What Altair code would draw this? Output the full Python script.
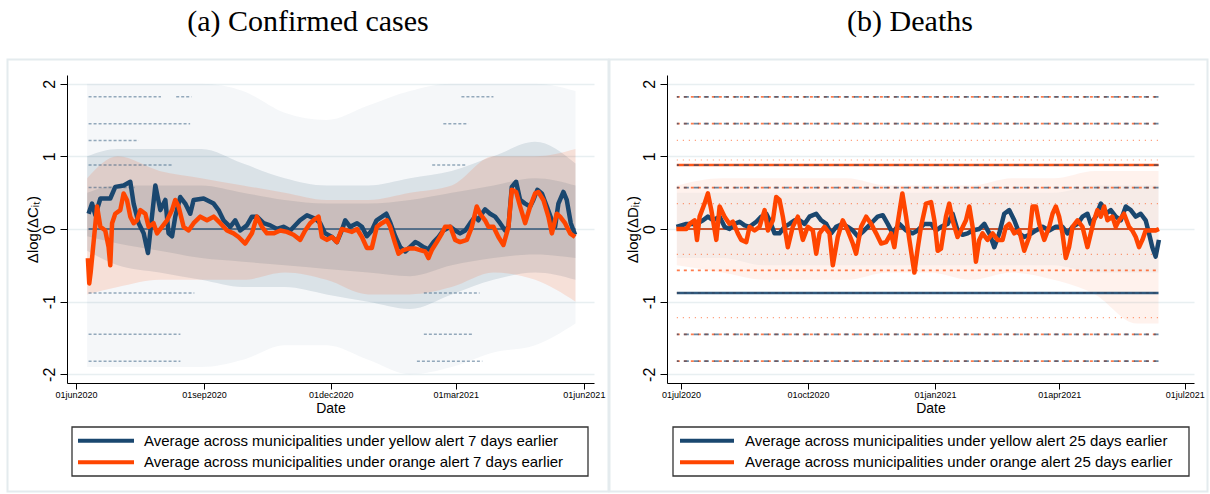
import altair as alt
import pandas as pd

# ------------------------------------------------------------------ text / ticks
panel_titles = ["(a) Confirmed cases", "(b) Deaths"]
y_titles = ["Δlog(ΔCᵢₜ)", "Δlog(ΔDᵢₜ)"]
x_title = "Date"
legend_a = ["Average across municipalities under yellow alert 7 days earlier",
            "Average across municipalities under orange alert 7 days earlier"]
legend_b = ["Average across municipalities under yellow alert 25 days earlier",
            "Average across municipalities under orange alert 25 days earlier"]
y_ticks = [-2, -1, 0, 1, 2]
y_range = [-2.12, 2.12]

a_start = "2020-06-01"
a_ticks = ["2020-06-01", "2020-09-01", "2020-12-01", "2021-03-01", "2021-06-01"]
a_range = ["2020-05-25T12:00", "2021-06-08T07:00"]
b_start = "2020-07-01"
b_ticks = ["2020-07-01", "2020-10-01", "2021-01-01", "2021-04-01", "2021-07-01"]
b_range = ["2020-06-20T21:00", "2021-07-07T17:00"]

# ------------------------------------------------------------------ (a) averages, days since 01jun2020
cases_yellow_day = [9, 11.5, 13.9, 17.5, 24.6, 28.2, 34.2, 39, 41.4, 45, 48.6, 51.7, 57, 60.6, 64.2, 66.5,
                    69, 71.3, 74.9, 78.5, 82.1, 84.5, 91.7, 98.9, 102.4, 106, 110.8, 114.4, 118, 122.8,
                    126.4, 130, 134.8, 139.6, 144.4, 149.1, 154, 161, 166, 172, 175.5, 179, 184, 187.5,
                    191, 193.5, 197, 202, 205.5, 209, 212.6, 216, 220, 223, 226, 229.4, 233, 236.6, 240,
                    243.8, 246, 249.7, 253.3, 257, 260.5, 264, 269, 272.5, 276, 279.7, 283.3, 286.8,
                    289.2, 291.7, 294, 297.6, 301.2, 304.8, 308.4, 310.8, 313.2, 316.3, 319.2, 322.8,
                    326.4, 328.7, 331.6, 334.8, 338.4, 342, 344.3, 346.7, 350.3, 352.7, 355.6, 358.7]
cases_yellow_val = [0.21, 0.35, 0.19, 0.42, 0.42, 0.58, 0.6, 0.65, 0.35, 0.08, -0.06, -0.33, 0.6, 0.26,
                    0.40, -0.06, -0.1, 0.17, 0.44, 0.35, 0.21, 0.4, 0.42, 0.35, 0.26, 0.12, 0.03, 0.12,
                    -0.02, 0.05, 0.17, 0.17, 0.08, 0.05, 0.0, 0.03, -0.02, 0.12, 0.19, 0.14, 0.08, -0.06,
                    -0.11, -0.18, -0.02, 0.12, 0.03, 0.08, 0.03, -0.1, -0.02, 0.12, 0.17, 0.21, 0.08,
                    -0.1, -0.25, -0.31, -0.25, -0.18, -0.2, -0.25, -0.28, -0.18, -0.11, -0.02, 0.03,
                    -0.02, -0.06, -0.02, 0.08, 0.17, 0.12, 0.21, 0.27, 0.21, 0.17, 0.08, -0.02, 0.03,
                    0.58, 0.65, 0.40, 0.35, 0.31, 0.40, 0.54, 0.49, 0.31, 0.12, 0.03, 0.35, 0.51, 0.40,
                    0.08, -0.08]
cases_orange_day = [8.5, 9.5, 10.5, 15.1, 17.5, 21, 23.4, 24.6, 25.9, 28.2, 31.8, 34.2, 36.6, 39, 41.4,
                    43.8, 46.2, 49.8, 52.2, 55.7, 58.2, 61.8, 65.4, 69, 71.3, 73.7, 77.3, 80.9, 84.5,
                    89.3, 94.1, 98.9, 103.7, 108.5, 113.2, 116.8, 121.6, 126.4, 130, 133.6, 137.2, 142,
                    146.8, 151.6, 156.3, 161.1, 164.7, 168.3, 172, 174.3, 176.7, 180.3, 184, 187.5, 191,
                    194.7, 198.3, 202, 205.5, 209, 212.6, 216.2, 219.8, 223.4, 225.8, 229.4, 231.8,
                    235.3, 239, 243.8, 247.3, 251, 253.3, 255.7, 259.3, 263, 265.3, 269, 272.5, 276,
                    280.9, 284.5, 288, 290.4, 294, 296.4, 300, 303.6, 307.2, 310.8, 313.2, 316.3, 319.2,
                    322.8, 326.4, 330, 332.3, 335.9, 339.5, 342, 345.5, 347.9, 351.5, 355.1, 358.7]
cases_orange_val = [-0.4, -0.75, -0.6, 0.31, 0.03, -0.02, -0.25, -0.5, 0.08, 0.21, 0.26, 0.49, 0.40,
                    0.17, 0.08, 0.12, 0.26, 0.21, 0.03, 0.08, -0.06, 0.03, 0.12, 0.26, 0.40, 0.31, 0.03,
                    -0.02, 0.08, 0.17, 0.12, 0.17, 0.08, -0.02, -0.06, -0.11, -0.2, -0.06, 0.17, 0.03,
                    -0.06, -0.06, -0.02, -0.04, -0.08, -0.15, -0.02, 0.08, 0.14, 0.17, -0.11, -0.15,
                    -0.11, -0.18, 0.0, -0.02, -0.04, 0.0, -0.11, -0.26, -0.26, 0.03, 0.08, 0.12, 0.03,
                    -0.2, -0.34, -0.29, -0.27, -0.27, -0.29, -0.31, -0.4, -0.29, -0.18, -0.06, 0.03,
                    0.03, -0.15, -0.18, -0.15, 0.03, 0.31, 0.21, 0.12, 0.03, 0.03, -0.11, -0.22, 0.03,
                    0.54, 0.51, 0.31, 0.08, 0.31, 0.49, 0.51, 0.40, 0.17, -0.06, 0.21, 0.17, 0.08,
                    -0.06, -0.11]

# (a) municipality scatter, summarised as envelopes
cases_band_day = [8, 30, 60, 90, 120, 150, 180, 210, 240, 270, 300, 330, 359]
cases_yel_outer_hi = [2.0, 2.0, 2.0, 2.0, 1.9, 1.6, 1.5, 1.7, 1.9, 2.0, 2.0, 2.0, 1.9]
cases_yel_outer_lo = [-1.9, -1.9, -1.9, -1.9, -1.8, -1.6, -1.6, -1.8, -2.0, -1.9, -1.7, -1.6, -1.3]
cases_yel_core_hi = [1.0, 1.1, 1.1, 1.1, 0.9, 0.7, 0.6, 0.6, 0.7, 0.8, 1.0, 1.2, 0.9]
cases_yel_core_lo = [-0.3, -0.5, -0.6, -0.7, -0.8, -0.8, -0.9, -1.0, -1.1, -0.9, -0.7, -0.6, -0.7]
cases_yel_dense_hi = [0.5, 0.6, 0.6, 0.6, 0.5, 0.4, 0.35, 0.35, 0.4, 0.5, 0.6, 0.7, 0.6]
cases_yel_dense_lo = [-0.1, -0.2, -0.3, -0.4, -0.45, -0.5, -0.55, -0.6, -0.65, -0.5, -0.4, -0.35, -0.4]
cases_ora_hi = [0.7, 1.0, 0.8, 0.7, 0.6, 0.5, 0.4, 0.4, 0.5, 0.6, 1.0, 1.0, 1.1]
cases_ora_lo = [-0.9, -0.8, -0.7, -0.7, -0.7, -0.6, -0.7, -0.9, -0.9, -0.8, -0.6, -0.7, -1.0]

# (a) repeated discrete values (horizontal streaks)
cases_streak_val = [1.82, 1.82, 1.82, 1.45, 1.45, 1.22, 0.88, 0.88, 0.57, -0.88, -0.88, -1.45, -1.45, -1.82, -1.82]
cases_streak_from = [9, 72, 277, 9, 264, 9, 9, 256, 9, 9, 250, 9, 250, 9, 245]
cases_streak_to = [61, 83, 300, 82, 282, 45, 70, 281, 42, 85, 290, 75, 285, 75, 292]
cases_zero = [0.0]
cases_zero_from = [9]
cases_zero_to = [359]

# ------------------------------------------------------------------ (b) averages, days since 01jul2020
deaths_yellow_day = [-3.3, 3.9, 11.1, 16, 19.5, 23.2, 28, 31.6, 35.2, 38.9, 42.5, 46.1, 49.7, 54.6, 58.2,
                     61.8, 64.2, 67.8, 71.4, 75, 78.6, 82.3, 85.9, 89.5, 93.1, 98, 101.6, 105.2, 108.8,
                     112.4, 117.2, 120.8, 124.5, 128.1, 131.7, 135.3, 138.9, 142.5, 146.2, 149.8, 153.4,
                     158.2, 163.1, 167.9, 171.5, 176.3, 181.2, 184.8, 188.4, 193.2, 196.8, 200.4, 204,
                     207.7, 211.3, 216.1, 219.8, 223.4, 227, 230.6, 234.2, 237.8, 241.5, 245.1, 248.7,
                     252.3, 257.2, 262, 266.8, 271.6, 276.4, 280, 283.7, 287.3, 290.9, 294.5, 296.9,
                     300.5, 304.2, 307.8, 311.4, 315, 318.7, 322.3, 325.9, 329.5, 333.1, 336.7, 339.1,
                     341.5, 343.9, 346.3]
deaths_yellow_val = [0.03, 0.07, 0.07, 0.12, 0.17, 0.12, 0.17, 0.03, 0.0, 0.07, 0.1, 0.05, 0.03, 0.1,
                     0.17, 0.21, 0.12, -0.06, -0.06, 0.03, 0.07, 0.12, 0.12, 0.07, 0.17, 0.21, 0.12,
                     0.07, -0.06, 0.03, 0.07, 0.03, -0.02, -0.1, -0.04, 0.03, 0.1, 0.17, 0.19, 0.07,
                     -0.06, 0.07, -0.02, -0.06, -0.02, 0.07, 0.07, -0.02, 0.03, 0.07, 0.21, -0.02, -0.08,
                     -0.06, -0.02, 0.0, 0.07, -0.06, -0.25, -0.06, 0.21, 0.26, 0.12, -0.06, -0.11, -0.08,
                     -0.02, 0.03, -0.02, 0.03, 0.03, -0.06, 0.03, 0.07, 0.17, 0.21, 0.07, 0.17, 0.35,
                     0.21, 0.26, 0.17, 0.12, 0.31, 0.26, 0.17, 0.21, 0.12, -0.06, -0.25, -0.38, -0.15]
deaths_orange_day = [-3.3, 3.9, 6.3, 9.9, 11.6, 13.5, 17.1, 19.5, 22, 25.6, 28, 31.6, 35.2, 37.6, 41.2,
                     43.7, 47.3, 49.7, 53.3, 56.9, 60.6, 63, 66.6, 69, 71.4, 73.8, 77.4, 81, 84.7, 88.3,
                     91.9, 95.5, 98, 100.4, 104, 107.6, 110, 113.6, 117.2, 120.8, 124.5, 126.9, 130.5,
                     134.2, 137.8, 141.4, 145, 148.6, 152.2, 154.6, 157, 160.4, 163.1, 165.5, 169.1,
                     171.5, 173.9, 177.6, 181.2, 183.6, 186, 188.4, 192, 194.4, 196.8, 200.4, 202.9,
                     206.5, 208.9, 211.3, 213.7, 216.1, 218.5, 222.1, 225.8, 229.4, 233, 235.4, 237.8,
                     241.5, 245.1, 248.7, 252.3, 254.7, 257.2, 259.6, 263.2, 266.8, 269.2, 271.6, 274,
                     276.4, 278.8, 281.2, 283.7, 287.3, 290.9, 294.5, 296.9, 299.3, 301.7, 304.2, 306.6,
                     309, 312.6, 315, 317.4, 321, 324.6, 327, 329.5, 331.9, 334.3, 336.7, 340.3, 343.9,
                     346.3]
deaths_orange_val = [0.0, 0.0, 0.07, 0.12, -0.15, 0.17, 0.35, 0.49, 0.26, -0.15, 0.31, 0.17, 0.07, 0.1,
                     -0.06, -0.15, -0.18, 0.03, -0.02, 0.03, 0.26, -0.02, 0.12, 0.44, 0.40, 0.17, -0.25,
                     0.03, 0.17, -0.15, 0.03, -0.02, -0.34, -0.06, 0.03, -0.06, -0.5, -0.11, 0.12, -0.02,
                     -0.2, -0.34, 0.03, 0.17, 0.07, -0.06, -0.2, -0.18, -0.06, -0.25, 0.08, 0.49, 0.17,
                     -0.15, -0.6, -0.27, 0.03, 0.35, 0.37, 0.12, -0.3, -0.27, 0.17, 0.35, 0.12, -0.11,
                     -0.02, 0.12, 0.31, 0.03, -0.45, -0.15, -0.06, -0.15, -0.06, -0.15, -0.15, 0.03, 0.07,
                     -0.06, -0.02, -0.3, -0.11, 0.31, 0.31, 0.07, -0.15, 0.03, 0.21, 0.31, 0.17, -0.06,
                     -0.4, -0.25, 0.03, 0.12, 0.03, -0.25, -0.06, 0.12, 0.26, 0.17, 0.31, 0.12, 0.17,
                     0.03, 0.12, 0.21, 0.03, -0.02, -0.11, -0.25, -0.15, -0.02, -0.02, -0.02, 0.0]

deaths_band_day = [-3, 30, 60, 90, 120, 150, 180, 210, 240, 270, 300, 330, 346]
deaths_ora_hi = [0.6, 0.7, 0.7, 0.7, 0.7, 0.6, 0.6, 0.6, 0.7, 0.7, 0.8, 0.8, 0.8]
deaths_ora_lo = [-0.5, -0.6, -0.7, -0.7, -0.7, -0.6, -0.6, -0.7, -0.6, -0.7, -0.9, -1.3, -1.3]
deaths_yel_hi = [0.5, 0.5, 0.5, 0.5, 0.5, 0.5, 0.5, 0.5, 0.5, 0.5, 0.6, 0.6, 0.6]
deaths_yel_lo = [-0.4, -0.4, -0.5, -0.5, -0.5, -0.5, -0.5, -0.5, -0.5, -0.5, -0.6, -0.6, -0.6]

deaths_solid_orange = [0.88]
deaths_solid_navy = [-0.88]
deaths_zero = [0.0]
deaths_dash_navy = [1.82, 1.45, 0.88, 0.57, -1.45, -1.82]
deaths_dash_orange = [1.82, 1.45, 0.57, -0.57, -0.88, -1.45, -1.82]
deaths_faint_orange = [1.22, 0.95, 0.35, -0.35, -1.22]
deaths_streak_from = -3
deaths_streak_to = 346

# ------------------------------------------------------------------ styling
NAVY = "#1a476f"
ORANGE = "#ff4500"
ZERO_B = "#c8461c"
FRAME = "#e4ebee"
GRID = "#e8eff1"
FONT = "Liberation Sans"
SERIF = "Liberation Serif"
W, H = 527, 308


def dt(s):
    t = pd.Timestamp(s)
    return alt.DateTime(year=t.year, month=t.month, date=t.day, hours=t.hour, minutes=t.minute)


def dates(start, days):
    return pd.Timestamp(start) + pd.to_timedelta(pd.Series(days, dtype=float), unit="D")


def enc_x(rng, ticks):
    return alt.X("date:T", title=x_title,
                 scale=alt.Scale(domain=[dt(r) for r in rng]),
                 axis=alt.Axis(values=[dt(t) for t in ticks],
                               labelExpr="lower(timeFormat(datum.value, '%d%b%Y'))",
                               grid=False, tickSize=6, labelFontSize=9, labelPadding=1,
                               labelFlush=False, labelOverlap=False,
                               labelFont=FONT, titleFont=FONT, titleFontSize=14,
                               titleFontWeight="normal", titleY=18,
                               domainColor="black", tickColor="black",
                               labelColor="black", titleColor="black"))


def enc_y(title):
    return alt.Y("v:Q", title=title,
                 scale=alt.Scale(domain=y_range, nice=False, zero=False),
                 axis=alt.Axis(values=y_ticks, labelExpr="'' + datum.value",
                               labelAngle=270, labelAlign="center", labelBaseline="bottom",
                               labelFontSize=16, labelPadding=3, tickSize=7,
                               grid=True, gridColor=GRID, gridWidth=1.5,
                               labelFont=FONT, titleFont=FONT, titleFontSize=15,
                               titleFontWeight="normal", titleX=-27,
                               domainColor="black", tickColor="black",
                               labelColor="black", titleColor="black"))


one = pd.DataFrame({"k": [0]})


def deco(frame_l, frame_r, bound_l, bound_r, title, tx):
    lay = []
    lay.append(alt.Chart(one).mark_rect(fill="white", fillOpacity=0, strokeOpacity=0).encode(
        x=alt.value(bound_l), x2=alt.value(bound_r), y=alt.value(-75), y2=alt.value(419)))
    lay.append(alt.Chart(one).mark_rect(fillOpacity=0, stroke=FRAME, strokeWidth=2).encode(
        x=alt.value(frame_l), x2=alt.value(frame_r), y=alt.value(-15.5), y2=alt.value(416.5)))
    lay.append(alt.Chart(pd.DataFrame({"label": [title]})).mark_text(
        font=SERIF, fontSize=30, align="center", baseline="middle", color="black").encode(
        x=alt.value(tx), y=alt.value(-53), text="label:N"))
    return lay


def legend_layers(box_l, box_r, sym_l, sym_r, text_x, labels):
    lay = []
    lay.append(alt.Chart(one).mark_rect(fill="white", stroke="#333333", strokeWidth=1.3).encode(
        x=alt.value(box_l), x2=alt.value(box_r), y=alt.value(352), y2=alt.value(401)))
    for lbl, col, yy in [(labels[0], NAVY, 365.7), (labels[1], ORANGE, 387.3)]:
        lay.append(alt.Chart(one).mark_rule(color=col, strokeWidth=4).encode(
            x=alt.value(sym_l), x2=alt.value(sym_r), y=alt.value(yy)))
        lay.append(alt.Chart(pd.DataFrame({"label": [lbl]})).mark_text(
            font=FONT, fontSize=15, align="left", baseline="middle", color="black").encode(
            x=alt.value(text_x), y=alt.value(yy), text="label:N"))
    return lay


def band(start, days, lo, hi, color, opacity, X, Y):
    df = pd.DataFrame({"date": dates(start, days), "v": lo, "v2": hi})
    return alt.Chart(df).mark_area(color=color, opacity=opacity, interpolate="monotone").encode(
        x=X, y=Y, y2="v2:Q")


def rules(start, vals, d0, d1, X, Y, **style):
    n = len(vals)
    d0 = d0 if isinstance(d0, list) else [d0] * n
    d1 = d1 if isinstance(d1, list) else [d1] * n
    df = pd.DataFrame({"date": dates(start, d0), "date2": dates(start, d1), "v": vals})
    return alt.Chart(df).mark_rule(**style).encode(x=X, x2="date2:T", y=Y)


def line(start, days, vals, color, X, Y):
    df = pd.DataFrame({"date": dates(start, days), "v": vals})
    return alt.Chart(df).mark_line(color=color, strokeWidth=4.5, strokeJoin="round").encode(x=X, y=Y)


# ------------------------------------------------------------------ panel (a)
Xa = enc_x(a_range, a_ticks)
Ya = enc_y(y_titles[0])
la = deco(-59.5, 541.5, -67, 543, panel_titles[0], 241)
la += [
    band(a_start, cases_band_day, cases_yel_outer_lo, cases_yel_outer_hi, NAVY, 0.045, Xa, Ya),
    band(a_start, cases_band_day, cases_yel_core_lo, cases_yel_core_hi, NAVY, 0.12, Xa, Ya),
    band(a_start, cases_band_day, cases_yel_dense_lo, cases_yel_dense_hi, NAVY, 0.12, Xa, Ya),
    band(a_start, cases_band_day, cases_ora_lo, cases_ora_hi, ORANGE, 0.13, Xa, Ya),
    rules(a_start, cases_streak_val, cases_streak_from, cases_streak_to, Xa, Ya,
          color=NAVY, strokeWidth=1.5, strokeDash=[3, 2], opacity=0.45),
    rules(a_start, cases_zero, cases_zero_from, cases_zero_to, Xa, Ya,
          color=NAVY, strokeWidth=1.5, opacity=0.85),
    line(a_start, cases_yellow_day, cases_yellow_val, NAVY, Xa, Ya),
    line(a_start, cases_orange_day, cases_orange_val, ORANGE, Xa, Ya),
]
la += legend_layers(5, 521, 11, 67, 77, legend_a)
panel_a = alt.layer(*la).properties(width=W, height=H)

# ------------------------------------------------------------------ panel (b)
Xb = enc_x(b_range, b_ticks)
Yb = enc_y(y_titles[1])
lb = deco(-57.5, 540.5, -57, 543, panel_titles[1], 243)
s0, s1 = deaths_streak_from, deaths_streak_to
lb += [
    band(b_start, deaths_band_day, deaths_yel_lo, deaths_yel_hi, NAVY, 0.04, Xb, Yb),
    band(b_start, deaths_band_day, deaths_ora_lo, deaths_ora_hi, ORANGE, 0.07, Xb, Yb),
    rules(b_start, deaths_faint_orange, s0, s1, Xb, Yb,
          color=ORANGE, strokeWidth=1.2, strokeDash=[1, 5], opacity=0.6),
    rules(b_start, deaths_dash_orange, s0, s1, Xb, Yb,
          color=ORANGE, strokeWidth=1.8, strokeDash=[3, 4], opacity=0.7),
    rules(b_start, deaths_solid_orange, s0, s1, Xb, Yb,
          color=ORANGE, strokeWidth=2.5, opacity=0.9),
    rules(b_start, deaths_solid_navy, s0, s1, Xb, Yb,
          color=NAVY, strokeWidth=2.5, opacity=0.9),
    rules(b_start, deaths_dash_navy, s0, s1, Xb, Yb,
          color=NAVY, strokeWidth=1.8, strokeDash=[5, 5], strokeDashOffset=3, opacity=0.65),
    rules(b_start, deaths_zero, s0, s1, Xb, Yb,
          color=ZERO_B, strokeWidth=2, opacity=0.9),
    line(b_start, deaths_yellow_day, deaths_yellow_val, NAVY, Xb, Yb),
    line(b_start, deaths_orange_day, deaths_orange_val, ORANGE, Xb, Yb),
]
lb += legend_layers(6, 522, 13, 67, 78, legend_b)
panel_b = alt.layer(*lb).properties(width=W, height=H)

chart = alt.hconcat(panel_a, panel_b, spacing=73, bounds="flush").properties(
    padding=0, background="white").configure_view(strokeWidth=0)

chart.save("out.html", embed_options={"renderer": "svg", "actions": False})
